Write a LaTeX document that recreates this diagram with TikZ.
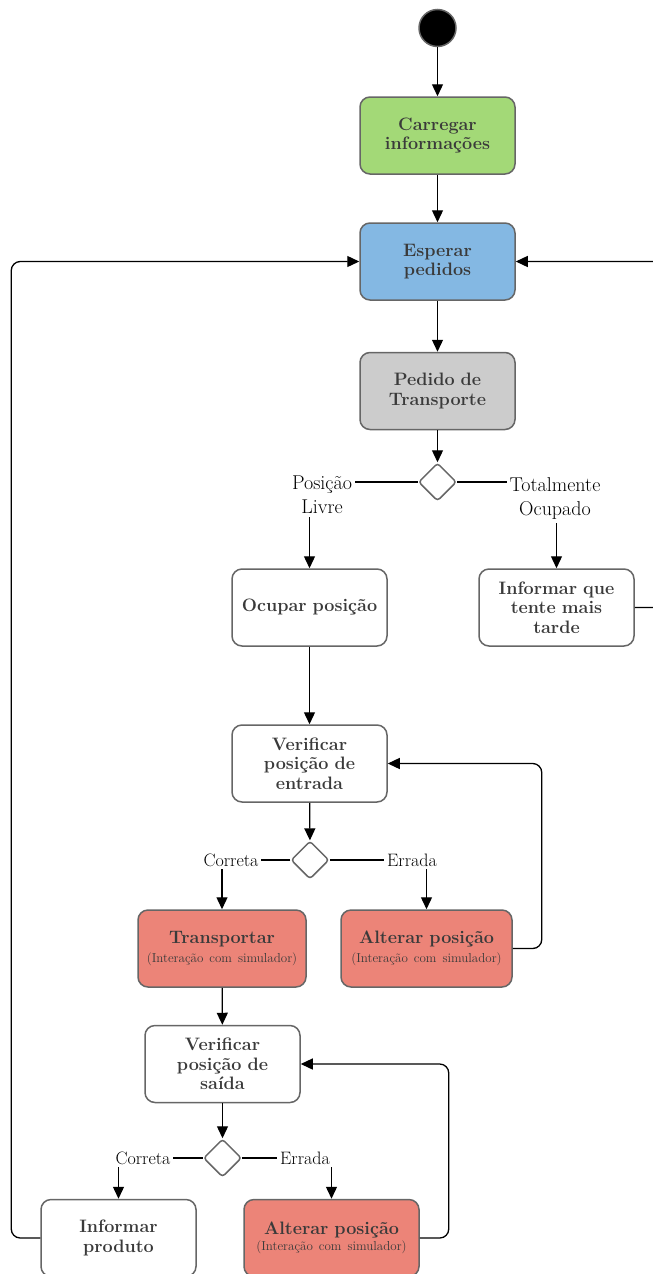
\documentclass[tikz,border=0pt]{standalone}
\usetikzlibrary{arrows.meta,shapes.geometric}
\definecolor{cgreen}{HTML}{A3D977}
\definecolor{cblue}{HTML}{84B8E3}
\definecolor{cgray}{HTML}{CCCCCC}
\definecolor{cred}{HTML}{EC8478}
\definecolor{cborder}{HTML}{666666}
\definecolor{ctext}{HTML}{3A3A3A}
% smaller note line inside an activity box
\newcommand{\notetxt}[1]{{\fontsize{13}{14}\selectfont\mdseries #1}}
\begin{document}
\begin{tikzpicture}[x=1pt,y=-1pt,
  actbox/.style={rectangle, rounded corners=10pt, draw=cborder, line width=1.5pt,
    minimum width=155pt, minimum height=77pt, text width=150pt, align=center,
    inner sep=0pt, text=ctext, font=\fontsize{18}{19.5}\selectfont\bfseries},
  simbox/.style={actbox, fill=cred, text width=162pt},
  decide/.style={diamond, draw=cborder, fill=white, line width=1.5pt,
    rounded corners=3pt, minimum width=38pt, minimum height=38pt, inner sep=0pt},
  flow/.style={line width=1.3pt, -{Triangle[length=12pt,width=11pt]}},
  loopflow/.style={flow, rounded corners=9pt},
  guard/.style={fill=white, inner sep=3pt, align=center,
    font=\fontsize{18}{22}\selectfont},
  bigguard/.style={guard, font=\fontsize{20}{24}\selectfont}
]
\useasboundingbox (0,0) rectangle (653,1274);
\clip (0,0) rectangle (653,1274);

% start and upper chain
\node[circle, fill=black, draw=cborder, line width=1.5pt, minimum size=37pt, inner sep=0pt] (start) at (437.5,28) {};
\node[actbox, fill=cgreen] (carregar) at (437.5,135.5) {Carregar\\informações};
\node[actbox, fill=cblue] (esperar) at (437.5,261.5) {Esperar\\pedidos};
\node[actbox, fill=cgray] (pedido) at (437.5,391) {Pedido de\\Transporte};
\node[decide] (d1) at (437.5,482) {};

\node[actbox, fill=white] (ocupar) at (309.5,607.5) {Ocupar posição};
\node[actbox, fill=white] (tarde) at (556.5,607.5) {Informar que\\tente mais\\tarde};

\node[actbox, fill=white] (ventrada) at (309.5,763.5) {Verificar\\posição de\\entrada};
\node[decide] (d2) at (310,860) {};
\node[simbox, minimum width=168pt] (transp) at (222,948.5)
  {Transportar\\[-1pt]\notetxt{(Interação com simulador)}};
\node[simbox, minimum width=171pt] (alt1) at (426.5,948.5)
  {Alterar posição\\[-1pt]\notetxt{(Interação com simulador)}};

\node[actbox, fill=white] (vsaida) at (222.5,1064) {Verificar\\posição de\\saída};
\node[decide] (d3) at (222.5,1158) {};
\node[actbox, fill=white] (produto) at (118.5,1238) {Informar\\produto};
\node[simbox, minimum width=175pt] (alt2) at (331.5,1238)
  {Alterar posição\\[-4pt]\notetxt{(Interação com simulador)}};

% main flow
\draw[flow] (start) -- (carregar);
\draw[flow] (carregar) -- (esperar);
\draw[flow] (esperar) -- (pedido);
\draw[flow] (pedido) -- (d1);
\draw[flow] (d1.west) -| (ocupar.north);
\draw[flow] (d1.east) -| (tarde.north);
\draw[flow] (ocupar) -- (ventrada);
\draw[flow] (ventrada) -- (d2);
\draw[flow] (d2.west) -| (transp.north);
\draw[flow] (d2.east) -| (alt1.north);
\draw[flow] (transp) -- (vsaida);
\draw[flow] (vsaida.south) -- (d3.north);
\draw[flow] (d3.west) -| (produto.north);
\draw[flow] (d3.east) -| (alt2.north);

% return loops
\draw[loopflow] (tarde.east) -- ++(30,0) |- (esperar.east);
\draw[loopflow] (produto.west) -- ++(-29,0) |- (esperar.west);
\draw[loopflow] (alt1.east) -- ++(29,0) |- (ventrada.east);
\draw[loopflow] (alt2.east) -- ++(29,0) |- (vsaida.east);

% guard labels
\node[bigguard] (g1) at (322,495) {Posição\\Livre};
\node[bigguard] (g2) at (555,499) {Totalmente\\Ocupado};
\node[guard] (g3) at (231,860) {Correta};
\node[guard] (g4) at (412,860) {Errada};
\node[guard] (g5) at (143,1158) {Correta};
\node[guard] (g6) at (305,1158) {Errada};
\end{tikzpicture}
\end{document}
